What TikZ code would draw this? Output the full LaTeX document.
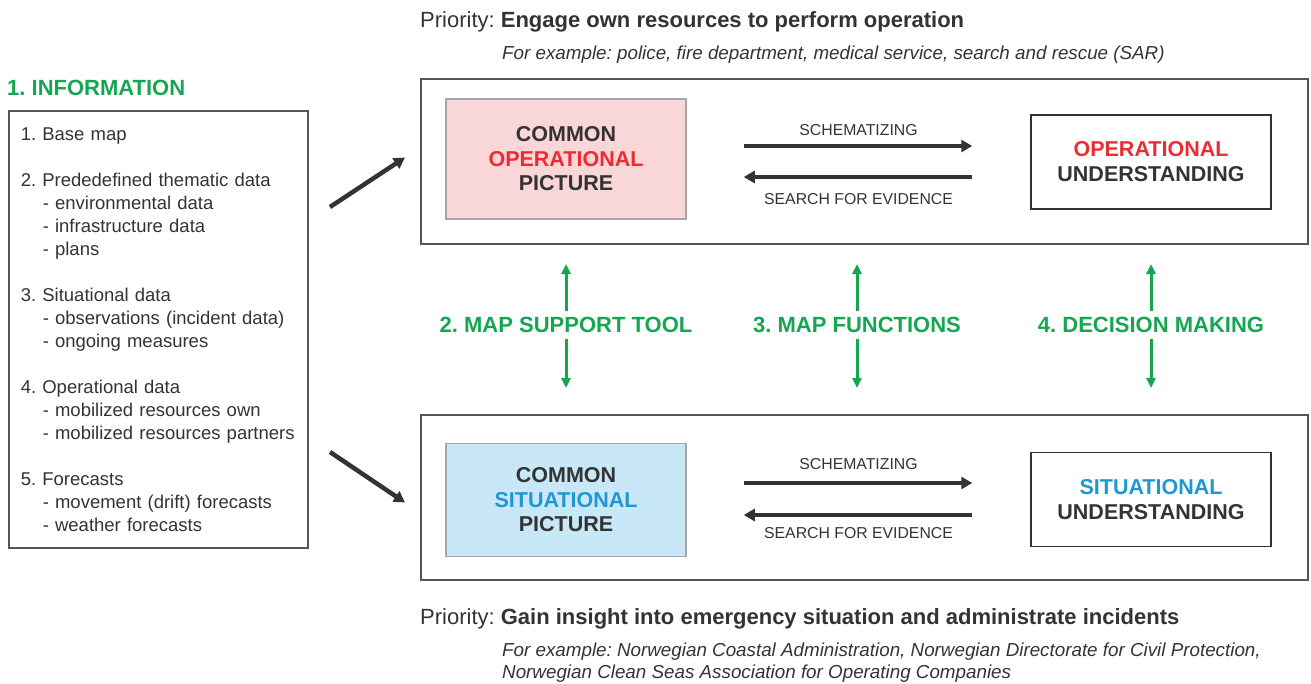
\documentclass[tikz,border=0pt]{standalone}
\usepackage{fontspec}
\setmainfont{Liberation Sans}
\frenchspacing
\usetikzlibrary{arrows.meta,positioning}

\definecolor{ink}{HTML}{333333}
\definecolor{frame}{HTML}{555555}
\definecolor{opred}{HTML}{EE2B33}
\definecolor{sitblue}{HTML}{1E98D5}
\definecolor{mapgreen}{HTML}{16A651}
\definecolor{oppink}{HTML}{F9D6D8}
\definecolor{sitcyan}{HTML}{C8E8F8}

\tikzstyle{panel}=[
	rectangle,
	draw=frame,
	line width=2pt,
	minimum width=887pt,
	minimum height=165pt,
	inner sep=0pt,
	anchor=north west
]
\tikzstyle{commonbox}=[
	rectangle,
	draw=black!35,
	line width=1.5pt,
	minimum width=240pt,
	minimum height=120pt,
	align=center,
	text=ink,
	font=\bfseries\fontsize{21.5}{24.5}\selectfont
]
\tikzstyle{insightbox}=[
	rectangle,
	draw=ink,
	line width=1.5pt,
	minimum width=240pt,
	minimum height=94pt,
	align=center,
	text=ink,
	font=\bfseries\fontsize{21.5}{25}\selectfont
]
\tikzstyle{flow}=[
	-{Triangle[length=11pt,width=12pt]},
	line width=4.5pt,
	draw=ink
]
\tikzstyle{link}=[
	-{Triangle[length=10pt,width=9pt]},
	line width=3pt,
	draw=mapgreen
]
\tikzstyle{phase}=[
	text=mapgreen,
	font=\bfseries\fontsize{22}{26}\selectfont
]
\tikzstyle{flowlabel}=[
	text=ink,
	font=\fontsize{15.8}{18}\selectfont
]
\tikzstyle{priority}=[
	anchor=base west,
	inner sep=0pt,
	text=ink,
	font=\fontsize{22}{26}\selectfont
]
\tikzstyle{note}=[
	anchor=base west,
	inner sep=0pt,
	text=ink,
	font=\itshape\fontsize{18.8}{22}\selectfont
]

\begin{document}
\begin{tikzpicture}[x=1pt,y=-1pt]
\useasboundingbox (0,0) rectangle (1311,683);

% information sources
\node [phase, anchor=base west, inner sep=0pt] (infotitle) at (7,95) {1. INFORMATION};
\node [rectangle, draw=frame, line width=1.5pt, anchor=north west, text=ink,
	text width=275pt, inner xsep=12pt, minimum height=437pt, align=left,
	font=\fontsize{18.5}{23}\selectfont] (data) at (8,110) {%
	1. Base map\\[23pt]
	2. Prededefined thematic data\\
	\hspace*{22pt}- environmental data\\
	\hspace*{22pt}- infrastructure data\\
	\hspace*{22pt}- plans\\[23pt]
	3. Situational data\\
	\hspace*{22pt}- observations (incident data)\\
	\hspace*{22pt}- ongoing measures\\[23pt]
	4. Operational data\\
	\hspace*{22pt}- mobilized resources own\\
	\hspace*{22pt}- mobilized resources partners\\[23pt]
	5. Forecasts\\
	\hspace*{22pt}- movement (drift) forecasts\\
	\hspace*{22pt}- weather forecasts};

% operational level
\node [priority] (prio1) at (420,27) {Priority: \textbf{Engage own resources to perform operation}};
\node [note] (ex1) at (502,59) {For example: police, fire department, medical service, search and rescue (SAR)};
\node [panel] (opbox) at (420,78) {};
\node [commonbox, fill=oppink] (cop) at (566,159) {COMMON\\{\color{opred}OPERATIONAL}\\PICTURE};
\node [insightbox] (ou) at (1151,162) {{\color{opred}OPERATIONAL}\\UNDERSTANDING};
\draw [flow, shorten <=57pt, shorten >=58pt] ([yshift=13pt]cop.east) -- ([yshift=13pt]cop.east -| ou.west)
	node [flowlabel, midway, above=5pt] {SCHEMATIZING};
\draw [flow, shorten <=58pt, shorten >=57pt] ([yshift=-18pt]cop.east -| ou.west) -- ([yshift=-18pt]cop.east)
	node [flowlabel, midway, below=11pt] {SEARCH FOR EVIDENCE};

% situational level
\node [panel] (sitbox) at (420,414) {};
\node [commonbox, fill=sitcyan, minimum height=113pt] (scp) at (566,500) {COMMON\\{\color{sitblue}SITUATIONAL}\\PICTURE};
\node [insightbox] (su) at (1151,499.5) {{\color{sitblue}SITUATIONAL}\\UNDERSTANDING};
\draw [flow, shorten <=57pt, shorten >=58pt] ([yshift=17pt]scp.east) -- ([yshift=17pt]scp.east -| su.west)
	node [flowlabel, midway, above=8pt] {SCHEMATIZING};
\draw [flow, shorten <=58pt, shorten >=57pt] ([yshift=-15pt]scp.east -| su.west) -- ([yshift=-15pt]scp.east)
	node [flowlabel, midway, below=7pt] {SEARCH FOR EVIDENCE};
\node [priority] (prio2) at (420,624) {Priority: \textbf{Gain insight into emergency situation and administrate incidents}};
\node [note] (ex2) at (502,656) {For example: Norwegian Coastal Administration, Norwegian Directorate for Civil Protection,};
\node [note] (ex3) at (502,678) {Norwegian Clean Seas Association for Operating Companies};

% inputs into both levels
\coordinate (in1) at (330,207);
\coordinate (in2) at (330,452);
\draw [flow, line width=4.5pt] (in1) -- ([xshift=-15pt,yshift=4pt]opbox.west);
\draw [flow, line width=4.5pt] (in2) -- ([xshift=-15pt,yshift=-5pt]sitbox.west);

% links between the levels
\node [phase] (tool) at (566,325) {2. MAP SUPPORT TOOL};
\node [phase] (func) at (857,325) {3. MAP FUNCTIONS};
\node [phase] (decide) at (1151,325) {4. DECISION MAKING};
\foreach \n in {tool,func,decide} {
	\draw [link, shorten <=3pt, shorten >=19pt] (\n.north) -- (\n.north |- opbox.south);
	\draw [link, shorten <=3pt, shorten >=26pt] (\n.south) -- (\n.south |- sitbox.north);
}
\end{tikzpicture}
\end{document}
